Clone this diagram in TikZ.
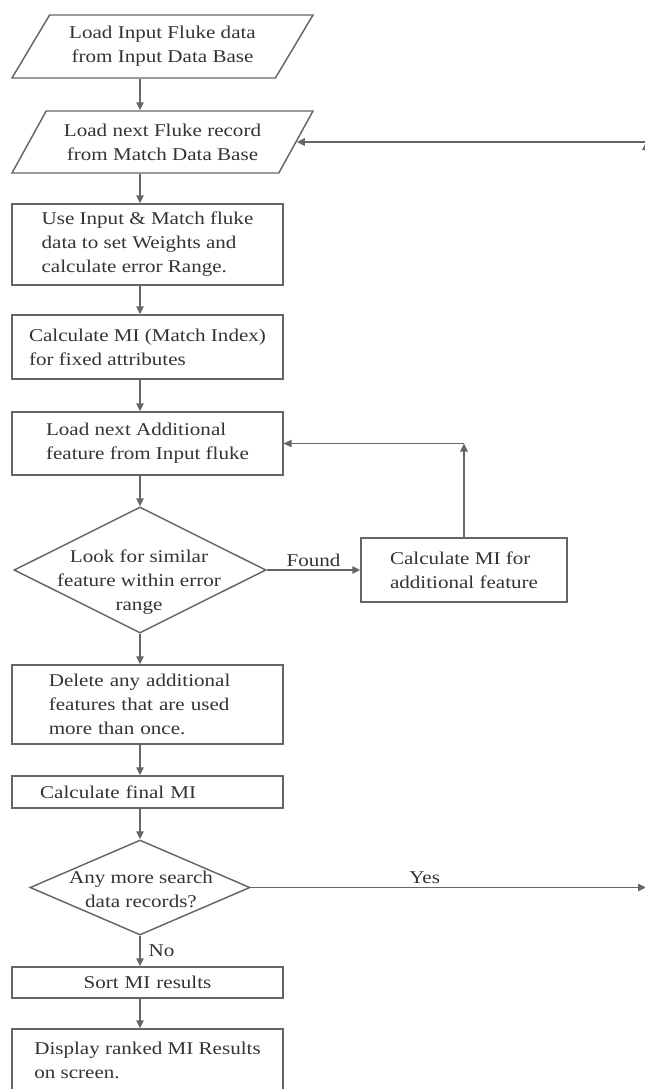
\documentclass[tikz,border=0pt]{standalone}
\usepackage{fontspec}
\setmainfont{Liberation Serif}[FakeStretch=1.17]
\usetikzlibrary{arrows.meta,positioning,shapes.geometric}
\newcommand{\flowfont}{\fontsize{13.5}{18}\selectfont}
\tikzset{
  basebox/.style={rectangle, draw=black!60, line width=1.1pt, text=black!80,
                  minimum width=203pt, inner sep=0pt, align=left,
                  font=\flowfont},
  procbox/.style={basebox, text width=161pt},
  iobox/.style={trapezium, trapezium left angle=47, trapezium right angle=133,
                trapezium stretches body, draw=black!60, line width=1.1pt,
                text=black!80, minimum width=225.75pt, inner sep=0pt,
                align=center, font=\flowfont},
  decbox/.style={diamond, draw=black!60, line width=1.1pt, inner sep=0pt},
  dectext/.style={align=center, font=\flowfont, text=black!80, inner sep=0pt},
  flowlabel/.style={font=\flowfont, text=black!80, inner sep=2pt},
  flowarrow/.style={-{Triangle[length=6pt,width=5.5pt]}, line width=1.1pt,
                    draw=black!60},
}
\begin{document}
\begin{tikzpicture}[x=0.75pt, y=-0.75pt]
    \useasboundingbox (0,0) rectangle (644,1089);
    \coordinate (spine) at (140,0);
    \coordinate (rightedge) at (646,0);

    \node[iobox, minimum height=47.25pt] (loadin)   at (162.5,46.5) {Load Input Fluke data\\from Input Data Base};
    \node[iobox, minimum height=46.5pt]  (loadnext) at (162.5,142)  {Load next Fluke record\\from Match Data Base};
    \node[basebox, minimum height=60.75pt] (setwt)    at (147.5,244.5) {Use Input \& Match fluke\\data to set Weights and\\calculate error Range.};
    \node[basebox, minimum height=48pt]    (fixmi)    at (147.5,347)   {Calculate MI (Match Index)\\for fixed attributes};
    \node[basebox, minimum height=47.25pt] (nextfeat) at (147.5,443.5) {Load next Additional\\feature from Input fluke};
    \node[decbox, minimum width=189pt, minimum height=94.5pt] (lookfeat) at (140,570) {};
    \node[dectext] (looktxt) at (139,582) {Look for similar\\feature within error\\range};
    \node[basebox, minimum width=154.5pt, minimum height=48pt] (addmi) at (464,570) {Calculate MI for\\additional feature};
    \node[procbox, text width=148pt, minimum height=59.25pt] (delfeat) at (147.5,704.5) {Delete any additional\\features that are used\\more than once.};
    \node[procbox, minimum height=24pt]    (finalmi)  at (147.5,792)   {Calculate final MI};
    \node[decbox, minimum width=165pt, minimum height=71.25pt] (moredata) at (140,887.5) {};
    \node[dectext] (moretxt) at (141,889.5) {Any more search\\data records?};
    \node[procbox, align=center, minimum height=23.25pt] (sortmi) at (147.5,982.5) {Sort MI results};
    \node[basebox, minimum height=47.25pt] (showres)  at (147.5,1060.5) {Display ranked MI Results\\on screen.};

    % main column
    \draw[flowarrow] (loadin.south -| spine)   -- (loadnext.north -| spine);
    \draw[flowarrow] (loadnext.south -| spine) -- (setwt.north -| spine);
    \draw[flowarrow] (setwt.south -| spine)    -- (fixmi.north -| spine);
    \draw[flowarrow] (fixmi.south -| spine)    -- (nextfeat.north -| spine);
    \draw[flowarrow] (nextfeat.south -| spine) -- (lookfeat.north);
    \draw[flowarrow] (lookfeat.south)          -- (delfeat.north -| spine);
    \draw[flowarrow] (delfeat.south -| spine)  -- (finalmi.north -| spine);
    \draw[flowarrow] (finalmi.south -| spine)  -- (moredata.north);
    \draw[flowarrow] (moredata.south) -- node[flowlabel, right=4pt] {No} (sortmi.north -| spine);
    \draw[flowarrow] (sortmi.south -| spine)   -- (showres.north -| spine);

    % feature loop
    \draw[flowarrow] (lookfeat.east) -- node[flowlabel, above] {Found} (addmi.west);
    \coordinate (featcorner) at (addmi.north |- nextfeat.east);
    \draw[flowarrow] (addmi.north) -- (featcorner);
    \draw[flowarrow] (featcorner) -- (nextfeat.east);

    % record loop
    \draw[flowarrow] (moredata.east) -- node[flowlabel, above, pos=0.44] {Yes} (moredata.east -| rightedge) coordinate (yesend);
    \coordinate (rettop) at (rightedge |- loadnext.east);
    \draw[flowarrow] (yesend) -- (rettop);
    \draw[flowarrow] (rettop) -- (loadnext.east);
\end{tikzpicture}
\end{document}
